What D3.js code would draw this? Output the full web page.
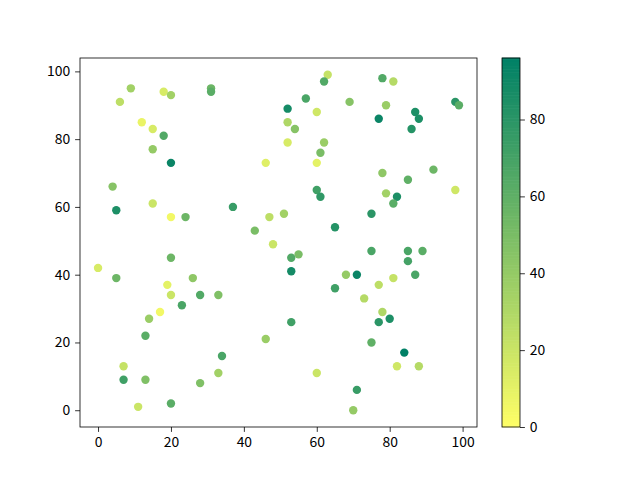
<!DOCTYPE html>
<html>
<head>
<meta charset="utf-8">
<script src="https://cdn.jsdelivr.net/npm/d3@7"></script>
<style>
  body { margin: 0; background: #fff; }
  svg text { font-family: "Noto Sans CJK SC", "DejaVu Sans", sans-serif; font-size: 13.9px; fill: #000; }
</style>
</head>
<body>
<div class="chart"></div>
<script>
// x, y, colour value of each point
var xs = [9, 6, 12, 15, 18, 20, 18, 15, 20, 31, 31, 4, 5, 15, 20, 24, 37, 46, 43, 47, 48,
    63, 62, 57, 52, 60, 52, 54, 52, 62, 61, 60, 69, 78, 81, 79, 77, 87, 88, 86, 98, 99,
    78, 85, 92, 98, 79, 82, 81, 60, 61, 75, 65, 51,
    0, 5, 20, 19, 20, 26, 28, 33, 23, 17, 14, 13, 46, 34, 7, 7, 13, 33, 28, 11, 20,
    53, 55, 53, 68, 71, 75, 85, 89, 85, 87, 81, 77, 65, 73, 78, 80, 77, 53, 75, 84, 82, 88, 60, 71, 70];
var ys = [95, 91, 85, 83, 94, 93, 81, 77, 73, 95, 94, 66, 59, 61, 57, 57, 60, 73, 53, 57, 49,
    99, 97, 92, 89, 88, 85, 83, 79, 79, 76, 73, 91, 98, 97, 90, 86, 88, 86, 83, 91, 90,
    70, 68, 71, 65, 64, 63, 61, 65, 63, 58, 54, 58,
    42, 39, 45, 37, 34, 39, 34, 34, 31, 29, 27, 22, 21, 16, 13, 9, 9, 11, 8, 1, 2,
    45, 46, 41, 40, 40, 47, 47, 47, 44, 40, 39, 37, 36, 33, 29, 27, 26, 26, 20, 17, 13, 13, 11, 6, 0];
var cs = [35, 25, 8, 15, 15, 35, 65, 40, 92, 55, 62, 45, 85, 20, 5, 55, 75, 12, 50, 25, 20,
    22, 65, 68, 88, 18, 30, 45, 15, 38, 50, 10, 45, 65, 28, 38, 92, 85, 85, 82, 80, 62,
    42, 60, 55, 18, 35, 85, 62, 72, 78, 80, 82, 35,
    15, 55, 55, 10, 20, 42, 65, 48, 68, 5, 38, 62, 38, 68, 22, 72, 48, 35, 48, 20, 62,
    65, 50, 88, 40, 92, 68, 68, 62, 70, 68, 22, 25, 72, 28, 30, 85, 80, 72, 60, 96, 18, 28, 20, 75, 40];
var cbTicks = [0, 20, 40, 60, 80];
var axisTicks = [0, 20, 40, 60, 80, 100];

var width = 640, height = 480;
var plot = { left: 80, right: 477, top: 58, bottom: 427 };
var cb = { left: 502, right: 520 };
var cmax = 96;
var font = "Noto Sans CJK SC, DejaVu Sans, sans-serif";

var svg = d3.select(".chart").append("svg")
    .attr("width", width)
    .attr("height", height);

// matplotlib style 5% margins on 0..99
var x = d3.scaleLinear().domain([-4.95, 103.95]).range([plot.left, plot.right]);
var y = d3.scaleLinear().domain([-4.95, 103.95]).range([plot.bottom, plot.top]);
// summer_r
var color = d3.scaleLinear().domain([0, cmax])
    .range(["rgb(255,255,102)", "rgb(0,128,102)"])
    .interpolate(d3.interpolateRgb);

var pts = xs.map(function (d, i) { return { x: d, y: ys[i], c: cs[i] }; });

svg.append("g").selectAll("circle")
    .data(pts)
    .enter().append("circle")
    .attr("cx", function (d) { return x(d.x); })
    .attr("cy", function (d) { return y(d.y); })
    .attr("r", 4.2)
    .attr("fill", function (d) { return color(d.c); });

svg.append("rect")
    .attr("x", plot.left).attr("y", plot.top)
    .attr("width", plot.right - plot.left).attr("height", plot.bottom - plot.top)
    .attr("fill", "none").attr("stroke", "#000").attr("stroke-width", 0.8);

var xAxis = d3.axisBottom(x).tickValues(axisTicks).tickSize(4.9).tickPadding(4.9);
var yAxis = d3.axisLeft(y).tickValues(axisTicks).tickSize(4.9).tickPadding(4.9);

var gx = svg.append("g").attr("transform", "translate(0," + plot.bottom + ")").call(xAxis);
var gy = svg.append("g").attr("transform", "translate(" + plot.left + ",0)").call(yAxis);
[gx, gy].forEach(function (g) {
    g.select(".domain").remove();
    g.selectAll("line").attr("stroke-width", 0.8);
    g.selectAll("text").style("font-size", "13.9px").style("font-family", font);
});

// colorbar
var cy = d3.scaleLinear().domain([0, cmax]).range([plot.bottom, plot.top]);
var steps = d3.range(0, cmax, cmax / 256);
svg.append("g").selectAll("rect")
    .data(steps)
    .enter().append("rect")
    .attr("x", cb.left)
    .attr("width", cb.right - cb.left)
    .attr("y", function (d) { return cy(d + cmax / 256) - 0.3; })
    .attr("height", function (d) { return cy(d) - cy(d + cmax / 256) + 0.6; })
    .attr("fill", function (d) { return color(d + cmax / 512); });
svg.append("rect")
    .attr("x", cb.left).attr("y", plot.top)
    .attr("width", cb.right - cb.left).attr("height", plot.bottom - plot.top)
    .attr("fill", "none").attr("stroke", "#000").attr("stroke-width", 0.8);

var cAxis = d3.axisRight(cy).tickValues(cbTicks).tickSize(4.9).tickPadding(4.9);
var gc = svg.append("g").attr("transform", "translate(" + cb.right + ",0)").call(cAxis);
gc.select(".domain").remove();
gc.selectAll("line").attr("stroke-width", 0.8);
gc.selectAll("text").style("font-size", "13.9px").style("font-family", font);
</script>
</body>
</html>
